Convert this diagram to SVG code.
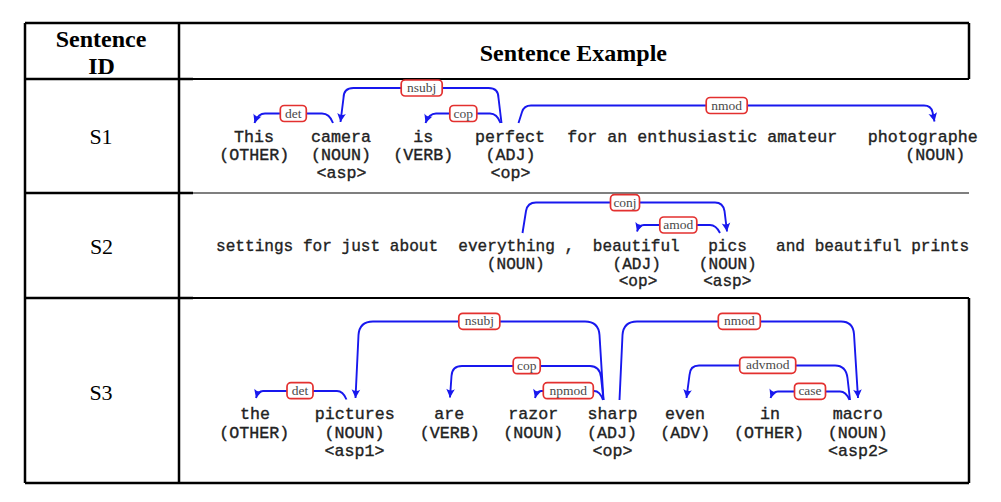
<svg xmlns="http://www.w3.org/2000/svg" width="1001" height="502" viewBox="0 0 1001 502">
<defs>
<style>
.hd{font-family:"Liberation Serif","Times New Roman",serif;font-weight:bold;font-size:24px;fill:#000;text-anchor:middle}
.id{font-family:"Liberation Serif","Times New Roman",serif;font-size:22px;fill:#000;text-anchor:middle}
.tk{font-family:"Liberation Mono","Courier New",monospace;font-size:16.67px;fill:#222;stroke:#222;stroke-width:0.35;text-anchor:middle}
.tk2{font-family:"Liberation Mono","Courier New",monospace;font-size:16.1px;fill:#222;stroke:#222;stroke-width:0.35;text-anchor:middle}
.st{text-anchor:start}
.ln{stroke:#000;fill:none}
.arc{stroke:#1818ee;stroke-width:1.9;fill:none;marker-end:url(#ah)}
.lb rect{fill:#fff;stroke:#e3302f;stroke-width:1.7}
.lb text{font-family:"Liberation Serif","Times New Roman",serif;font-size:13.5px;fill:#4a4a4a;text-anchor:middle}
</style>
<marker id="ah" markerUnits="userSpaceOnUse" markerWidth="12" markerHeight="12" viewBox="-10 -6 12 12" refX="0" refY="0" orient="auto">
<path d="M0,0 L-8.5,-4.3 Q-5.5,0 -8.5,4.3 Z" fill="#1818ee"/>
</marker>
</defs>
<rect width="1001" height="502" fill="#fff"/>
<g id="table">
<path class="ln" stroke-width="2.5" d="M25 23 H969 M25 23 V483 M25 483 H969 M179 23 V483 M969 23 V79 M969 298 V483 M25 79 H193 M25 193 H193 M25 298 H193"/>
<path class="ln" stroke-width="1.8" d="M193 79 H969 M193 298 H969"/>
<path class="ln" stroke-width="1.2" d="M193 193 H969"/>
</g>
<g id="header">
<text class="hd" x="101" y="46.5">Sentence</text>
<text class="hd" x="101.5" y="73.5">ID</text>
<text class="hd" x="573.3" y="60.5">Sentence Example</text>
</g>
<g id="ids">
<text class="id" x="101" y="144">S1</text>
<text class="id" x="101.5" y="254">S2</text>
<text class="id" x="101" y="400">S3</text>
</g>
<g id="s1-tokens">
<g id="s1-this"><text class="tk" x="254" y="142">This</text><text class="tk" x="254.3" y="160">(OTHER)</text></g>
<g id="s1-camera"><text class="tk" x="341" y="142">camera</text><text class="tk" x="341" y="160">(NOUN)</text><text class="tk" x="341.5" y="178">&lt;asp&gt;</text></g>
<g id="s1-is"><text class="tk" x="423.3" y="142">is</text><text class="tk" x="423.3" y="160">(VERB)</text></g>
<g id="s1-perfect"><text class="tk" x="510" y="142">perfect</text><text class="tk" x="510.5" y="160">(ADJ)</text><text class="tk" x="510.5" y="178">&lt;op&gt;</text></g>
<g id="s1-rest"><text class="tk st" x="567.3" y="142">for an enthusiastic amateur</text></g>
<g id="s1-photographe"><text class="tk st" x="867.7" y="142">photographe</text><text class="tk" x="935.3" y="160">(NOUN)</text></g>
</g>
<g id="s2-tokens">
<g id="s2-settings"><text class="tk2 st" x="216" y="251">settings for just about</text></g>
<g id="s2-everything"><text class="tk2 st" x="458.3" y="251">everything ,</text><text class="tk2" x="515.8" y="268.5">(NOUN)</text></g>
<g id="s2-beautiful"><text class="tk2" x="636.3" y="251">beautiful</text><text class="tk2" x="636.7" y="268.5">(ADJ)</text><text class="tk2" x="638" y="286">&lt;op&gt;</text></g>
<g id="s2-pics"><text class="tk2" x="727.5" y="251">pics</text><text class="tk2" x="727.8" y="268.5">(NOUN)</text><text class="tk2" x="727.3" y="286">&lt;asp&gt;</text></g>
<g id="s2-rest"><text class="tk2 st" x="776" y="251">and beautiful prints</text></g>
</g>
<g id="s3-tokens">
<g id="s3-the"><text class="tk" x="255" y="419">the</text><text class="tk" x="254.3" y="437.5">(OTHER)</text></g>
<g id="s3-pictures"><text class="tk" x="354.7" y="419">pictures</text><text class="tk" x="354.5" y="437.5">(NOUN)</text><text class="tk" x="354.5" y="456">&lt;asp1&gt;</text></g>
<g id="s3-are"><text class="tk" x="449.3" y="419">are</text><text class="tk" x="449.7" y="437.5">(VERB)</text></g>
<g id="s3-razor"><text class="tk" x="533.3" y="419">razor</text><text class="tk" x="533.3" y="437.5">(NOUN)</text></g>
<g id="s3-sharp"><text class="tk" x="612.5" y="419">sharp</text><text class="tk" x="612" y="437.5">(ADJ)</text><text class="tk" x="612.5" y="456">&lt;op&gt;</text></g>
<g id="s3-even"><text class="tk" x="685" y="419">even</text><text class="tk" x="685.2" y="437.5">(ADV)</text></g>
<g id="s3-in"><text class="tk" x="770" y="419">in</text><text class="tk" x="769" y="437.5">(OTHER)</text></g>
<g id="s3-macro"><text class="tk" x="857.8" y="419">macro</text><text class="tk" x="857.8" y="437.5">(NOUN)</text><text class="tk" x="858" y="456">&lt;asp2&gt;</text></g>
</g>
<g id="connectors">
<path class="arc" d="M333 123 Q329.5 113.5 322 113.5 H265 Q258 113.5 254.5 123"/>
<path class="arc" d="M501.5 123 L498.5 98 Q498.5 88 488.5 88 H353.5 Q343.5 88 343.5 98 L340.5 122"/>
<path class="arc" d="M500.5 123 Q497 113.5 490 113.5 H436 Q429 113.5 425.5 123"/>
<path class="arc" d="M518.5 123 L522 112 Q524 105.5 531 105.5 H924 Q931 105.5 932.5 112 L934.5 121.5"/>
<path class="arc" d="M522.5 233 L526 211 Q527.5 202.5 536 202.5 H715 Q723 202.5 724.5 211 L727 231.5"/>
<path class="arc" d="M720 233 Q716 225 710 225 H644 Q639 225 637 231.5"/>
<path class="arc" d="M346.5 399.5 Q343 391 337 391 H263 Q258 391 256 398"/>
<path class="arc" d="M603.5 400 L599.5 335 Q598.5 321.5 585 321.5 H373 Q359.5 321.5 358.5 335 L355.5 398"/>
<path class="arc" d="M603.5 400 L601 377 Q599.5 366 590 366 H462 Q452 366 451.5 376 L450 397.5"/>
<path class="arc" d="M603 400 Q600 391 594 391 H541 Q537 391 535 398"/>
<path class="arc" d="M619.5 400 L622.5 335 Q623.5 321.5 637 321.5 H841 Q853 321.5 854 334 L858 398"/>
<path class="arc" d="M850 400 L847.5 378 Q846 365.5 835 365.5 H699 Q690 365.5 689.5 375 L686.5 398"/>
<path class="arc" d="M849.5 400 Q846 391.5 840 391.5 H778 Q773 391.5 770.5 398"/>
<g class="lb">
<rect x="280.3" y="105.5" width="26" height="16" rx="4"/><text x="293.3" y="117.5">det</text>
<rect x="401.2" y="80" width="41" height="16" rx="4"/><text x="421.7" y="92">nsubj</text>
<rect x="449.8" y="105.5" width="27" height="16" rx="4"/><text x="463.3" y="117.5">cop</text>
<rect x="706.2" y="97.5" width="41" height="16" rx="4"/><text x="726.7" y="109.5">nmod</text>
<rect x="610.5" y="194.7" width="29" height="16" rx="4"/><text x="625" y="206.7">conj</text>
<rect x="659.8" y="217" width="37" height="16" rx="4"/><text x="678.3" y="229">amod</text>
<rect x="287" y="382.7" width="26" height="16" rx="4"/><text x="300" y="394.7">det</text>
<rect x="458.8" y="313.3" width="41" height="16" rx="4"/><text x="479.3" y="325.3">nsubj</text>
<rect x="513.2" y="357.7" width="27" height="16" rx="4"/><text x="526.7" y="369.7">cop</text>
<rect x="543.3" y="382.7" width="50" height="16" rx="4"/><text x="568.3" y="394.7">npmod</text>
<rect x="718.3" y="313.3" width="42" height="16" rx="4"/><text x="739.3" y="325.3">nmod</text>
<rect x="739.7" y="357.3" width="56" height="16" rx="4"/><text x="767.7" y="369.3">advmod</text>
<rect x="794.5" y="383.3" width="31" height="16" rx="4"/><text x="810" y="395.3">case</text>
</g>
</g>
</svg>
